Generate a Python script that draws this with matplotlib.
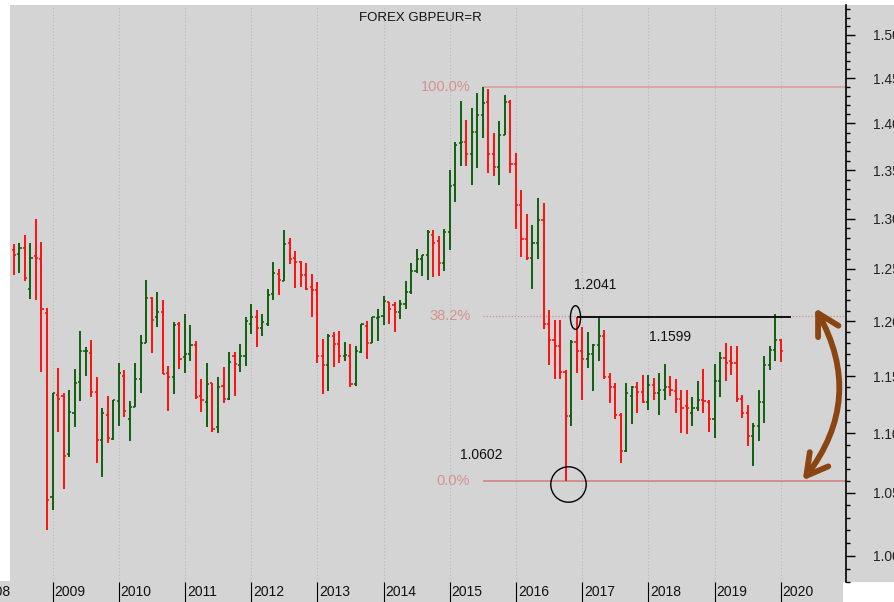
import numpy as np
import matplotlib
matplotlib.use("Agg")
import matplotlib.pyplot as plt
from matplotlib.patches import Rectangle, FancyArrowPatch, ArrowStyle
from matplotlib.path import Path
from matplotlib.transforms import Affine2D, blended_transform_factory
import matplotlib.ticker as mticker

plt.rcParams['font.family'] = ['Liberation Sans', 'DejaVu Sans']

# ---------------- data (monthly OHLC, GBPEUR, Jun 2008 .. Jan 2020) ----------------
start_year, start_month = 2008, 6
opens = [1.269, 1.265, 1.271, 1.231, 1.263, 1.260, 1.208, 1.047, 1.133, 1.132, 1.082, 1.117,
         1.145, 1.1727, 1.171, 1.136, 1.094, 1.116, 1.095, 1.128, 1.150, 1.112, 1.123, 1.147,
         1.180, 1.222, 1.204, 1.209, 1.153, 1.149, 1.198, 1.167, 1.170, 1.178, 1.132, 1.127,
         1.144, 1.105, 1.141, 1.130, 1.168, 1.160, 1.168, 1.198, 1.204, 1.194, 1.198, 1.226,
         1.245, 1.238, 1.275, 1.261, 1.257, 1.244, 1.233, 1.230, 1.168, 1.160, 1.186, 1.179,
         1.168, 1.168, 1.143, 1.172, 1.196, 1.180, 1.2035, 1.205, 1.218, 1.215, 1.209, 1.216,
         1.228, 1.248, 1.260, 1.264, 1.283, 1.277, 1.256, 1.286, 1.334, 1.379, 1.380, 1.367,
         1.391, 1.409, 1.423, 1.367, 1.353, 1.387, 1.423, 1.356, 1.314, 1.279, 1.261, 1.275,
         1.299, 1.198, 1.183, 1.177, 1.154, 1.115, 1.181, 1.173, 1.165, 1.170, 1.178, 1.186,
         1.149, 1.140, 1.116, 1.085, 1.132, 1.140, 1.136, 1.127, 1.142, 1.135, 1.138, 1.140,
         1.137, 1.130, 1.1235, 1.117, 1.122, 1.129, 1.127, 1.112, 1.146, 1.166, 1.1635, 1.162,
         1.130, 1.117, 1.098, 1.106, 1.127, 1.160, 1.174, 1.183]
highs = [1.274, 1.275, 1.283, 1.275, 1.300, 1.276, 1.213, 1.135, 1.157, 1.135, 1.138, 1.156,
         1.191, 1.176, 1.183, 1.149, 1.122, 1.132, 1.129, 1.162, 1.155, 1.128, 1.162, 1.187,
         1.239, 1.223, 1.228, 1.220, 1.159, 1.199, 1.199, 1.207, 1.197, 1.182, 1.147, 1.162,
         1.144, 1.149, 1.158, 1.172, 1.172, 1.179, 1.204, 1.216, 1.211, 1.207, 1.231, 1.257,
         1.250, 1.288, 1.280, 1.268, 1.258, 1.256, 1.245, 1.237, 1.184, 1.188, 1.190, 1.191,
         1.181, 1.179, 1.177, 1.198, 1.200, 1.204, 1.212, 1.224, 1.218, 1.218, 1.220, 1.238,
         1.256, 1.270, 1.264, 1.288, 1.288, 1.282, 1.289, 1.350, 1.380, 1.425, 1.404, 1.417,
         1.433, 1.4405, 1.438, 1.389, 1.402, 1.431, 1.426, 1.368, 1.329, 1.305, 1.293, 1.321,
         1.316, 1.211, 1.201, 1.201, 1.155, 1.183, 1.2041, 1.195, 1.190, 1.179, 1.203, 1.192,
         1.153, 1.144, 1.117, 1.144, 1.141, 1.145, 1.151, 1.151, 1.148, 1.153, 1.161, 1.150,
         1.147, 1.138, 1.138, 1.131, 1.146, 1.156, 1.129, 1.161, 1.172, 1.180, 1.177, 1.177,
         1.133, 1.124, 1.109, 1.138, 1.168, 1.177, 1.207, 1.184]
lows = [1.244, 1.246, 1.238, 1.221, 1.220, 1.154, 1.020, 1.036, 1.101, 1.053, 1.080, 1.105,
        1.128, 1.150, 1.131, 1.075, 1.063, 1.092, 1.094, 1.106, 1.114, 1.093, 1.123, 1.135,
        1.180, 1.171, 1.195, 1.152, 1.119, 1.134, 1.156, 1.153, 1.164, 1.130, 1.118, 1.105,
        1.101, 1.100, 1.126, 1.129, 1.132, 1.154, 1.159, 1.188, 1.176, 1.186, 1.196, 1.220,
        1.225, 1.238, 1.255, 1.232, 1.233, 1.230, 1.204, 1.162, 1.134, 1.137, 1.158, 1.162,
        1.164, 1.140, 1.141, 1.171, 1.165, 1.180, 1.182, 1.197, 1.198, 1.190, 1.202, 1.212,
        1.226, 1.246, 1.243, 1.239, 1.242, 1.243, 1.248, 1.269, 1.317, 1.354, 1.354, 1.334,
        1.352, 1.384, 1.347, 1.344, 1.334, 1.387, 1.347, 1.289, 1.262, 1.259, 1.231, 1.260,
        1.193, 1.160, 1.147, 1.147, 1.0602, 1.106, 1.153, 1.129, 1.157, 1.137, 1.164, 1.147,
        1.126, 1.112, 1.075, 1.084, 1.108, 1.117, 1.126, 1.120, 1.129, 1.116, 1.129, 1.132,
        1.117, 1.100, 1.099, 1.106, 1.119, 1.117, 1.101, 1.096, 1.131, 1.146, 1.151, 1.127,
        1.113, 1.089, 1.072, 1.093, 1.109, 1.155, 1.164, 1.163]
closes = [1.264, 1.271, 1.241, 1.261, 1.261, 1.212, 1.044, 1.135, 1.130, 1.081, 1.118, 1.144,
          1.173, 1.1731, 1.136, 1.094, 1.117, 1.096, 1.129, 1.153, 1.119, 1.123, 1.147, 1.180,
          1.222, 1.201, 1.209, 1.152, 1.149, 1.197, 1.165, 1.170, 1.178, 1.131, 1.129, 1.143,
          1.104, 1.140, 1.130, 1.163, 1.161, 1.168, 1.200, 1.204, 1.194, 1.199, 1.225, 1.246,
          1.239, 1.274, 1.260, 1.257, 1.244, 1.231, 1.230, 1.168, 1.160, 1.186, 1.179, 1.168,
          1.169, 1.143, 1.173, 1.198, 1.180, 1.204, 1.204, 1.219, 1.212, 1.209, 1.216, 1.228,
          1.248, 1.260, 1.264, 1.286, 1.275, 1.256, 1.286, 1.333, 1.377, 1.380, 1.367, 1.391,
          1.409, 1.422, 1.367, 1.353, 1.387, 1.423, 1.356, 1.314, 1.279, 1.261, 1.275, 1.299,
          1.198, 1.183, 1.177, 1.154, 1.115, 1.181, 1.173, 1.165, 1.170, 1.178, 1.186, 1.149,
          1.140, 1.116, 1.085, 1.135, 1.140, 1.136, 1.127, 1.142, 1.135, 1.138, 1.140, 1.138,
          1.130, 1.122, 1.122, 1.122, 1.129, 1.128, 1.112, 1.146, 1.166, 1.162, 1.1615, 1.130,
          1.117, 1.098, 1.106, 1.127, 1.160, 1.174, 1.183, 1.173]

years = list(range(2008, 2021))
major_ticks = [1.00, 1.05, 1.10, 1.15, 1.20, 1.25, 1.30, 1.35, 1.40, 1.45, 1.50]
fib_low = 1.0602          # Oct 2016 flash-crash low
resistance = 1.2041       # Dec 2016 high
mid_label = 1.1599
title = "FOREX GBPEUR=R"

# ---------------- figure ----------------
W, H = 895, 602
fig = plt.figure(figsize=(W / 100, H / 100), dpi=100)
fig.patch.set_facecolor('white')
bg = '#d4d4d4'
# gray strips for the axis label areas (drawn beneath the axes)
fig.patches.append(Rectangle((0, 0), 843 / W, 21 / H, transform=fig.transFigure,
                             facecolor=bg, edgecolor='none', zorder=-10))
fig.patches.append(Rectangle((846 / W, 20 / H), 49 / W, 577 / H, transform=fig.transFigure,
                             facecolor=bg, edgecolor='none', zorder=-10))

ax = fig.add_axes([10 / W, 20 / H, 836 / W, 577 / H])
ax.set_facecolor(bg)

n = len(opens)
x = np.array([start_year + (start_month - 1 + i) / 12.0 for i in range(n)])
o = np.array(opens); h = np.array(highs); l = np.array(lows); c = np.array(closes)
cols = np.where(c >= o, '#0f5f0f', '#ff1010')

ax.set_yscale('log')
xl, xr = 2008.358, 2020.986

tick = 0.032
ax.vlines(x, l, h, colors=cols, lw=1.4, zorder=3)
ax.hlines(o, x - tick, x, colors=cols, lw=1.2, zorder=3)
ax.hlines(c, x, x + tick, colors=cols, lw=1.2, zorder=3)

# y axis on right, log scale
ax.yaxis.tick_right()
ax.yaxis.set_major_locator(mticker.FixedLocator(major_ticks))
ax.yaxis.set_minor_locator(mticker.FixedLocator(np.arange(0.98, 1.541, 0.01)))
ax.yaxis.set_major_formatter(mticker.FuncFormatter(lambda v, p: f"{v:.2f}"))
ax.yaxis.set_minor_formatter(mticker.NullFormatter())
ax.tick_params(axis='y', which='major', length=6.5, width=1, pad=13, labelsize=10,
               labelcolor='#222222', direction='out')
ax.tick_params(axis='y', which='minor', length=3, width=1, direction='out')

# x axis: year separators
ax.xaxis.set_major_locator(mticker.FixedLocator(years))
ax.xaxis.set_minor_locator(mticker.NullLocator())
ax.tick_params(axis='x', which='major', length=14.4, width=0.8, direction='out',
               labelbottom=False)
ax.grid(axis='x', which='major', color='#b8b8b8', linestyle=(0, (1, 2)), linewidth=0.8)

ax.set_xlim(xl, xr)
ax.set_ylim(0.9797, 1.5350)

trans_x = blended_transform_factory(ax.transData, ax.transAxes)
for yr in years:
    if yr == 2008:
        continue
    ax.text(yr + 0.03, -10.5 / 577, str(yr), transform=trans_x, ha='left', va='center',
            fontsize=10, color='#111111', clip_on=False)
ax.text(xl, -10.5 / 577, '2008', transform=trans_x, ha='right', va='center',
        fontsize=10, color='#111111', clip_on=False)

for side in ['top', 'left', 'bottom']:
    ax.spines[side].set_visible(False)
ax.spines['right'].set_linewidth(1.2)

# ---------------- Fibonacci levels ----------------
i_hi = int(np.argmax(h))
fib_high = h[i_hi]
fib_382 = fib_low + 0.382 * (fib_high - fib_low)
x_hi = x[i_hi]
ax.hlines(fib_high, x_hi, xr, color='#dc9a9a', lw=1.1, zorder=2)
ax.hlines(fib_382, x_hi, xr, color='#d88a8a', lw=0.9, linestyles=[(0, (1, 1.5))], zorder=2)
ax.hlines(fib_low, x_hi, xr, color='#d47a7a', lw=1.1, zorder=2)
for val, lab in [(fib_high, '100.0%'), (fib_382, '38.2%'), (fib_low, '0.0%')]:
    ax.text(x_hi - 0.19, val, lab, ha='right', va='center', fontsize=10.5, color='#d4918f')

# ---------------- annotations ----------------
i_res = int(np.argmin(np.abs(h - resistance)))
ax.hlines(resistance, x[i_res], x[-1] + 0.15, color='black', lw=1.3, zorder=4)
ell = Path(Affine2D().scale(0.43, 1.0).transform(Path.unit_circle().vertices),
           Path.unit_circle().codes)
ax.plot([x[i_res] - 0.02], [resistance], marker=ell, markersize=17, markerfacecolor='none',
        markeredgecolor='black', markeredgewidth=1.0, zorder=5)
i_low = int(np.argmin(np.abs(l - fib_low)))
ax.plot([x[i_low] + 0.04], [fib_low * 0.9975], marker='o', markersize=25.5,
        markerfacecolor='none', markeredgecolor='black', markeredgewidth=1.0, zorder=5)

ax.text(x[i_res] - 0.04, resistance * 1.025, f"{resistance:.4f}", ha='left', va='center',
        fontsize=10, color='#111111')
ax.text(x[i_res] + 1.1, resistance * 0.9845, f"{mid_label:.4f}", ha='left', va='center',
        fontsize=10, color='#111111')
ax.text(x_hi - 0.35, fib_low * 1.02, f"{fib_low:.4f}", ha='left', va='center',
        fontsize=10, color='#111111')

arrow = FancyArrowPatch(posA=(2020.332, fib_low), posB=(2020.52, 1.2125),
                        arrowstyle=ArrowStyle('<->', head_length=0.75, head_width=0.42),
                        connectionstyle='arc3,rad=0.33', mutation_scale=20,
                        lw=4.2, color='#8B4513', shrinkA=0, shrinkB=0, zorder=6,
                        clip_on=False, capstyle='round', joinstyle='round')
ax.add_patch(arrow)

fig.text(420 / W, 1 - 18 / H, title, ha='center', va='center', fontsize=9.5, color='#111111')

fig.savefig('out.png', dpi=100, facecolor=fig.get_facecolor())
